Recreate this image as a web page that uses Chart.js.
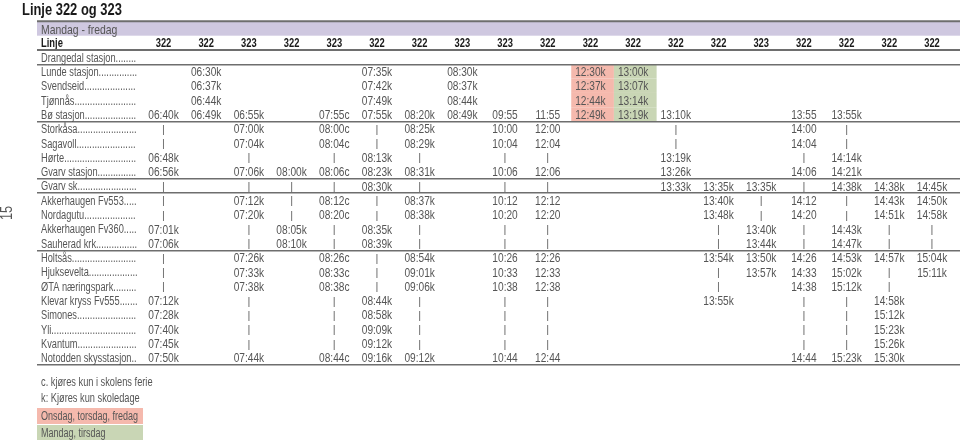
<!DOCTYPE html>
<html lang="no">
<head>
<meta charset="utf-8">
<title>Linje 322 og 323</title>
<script src="https://cdn.jsdelivr.net/npm/chart.js"></script>
<style>
  html, body { margin: 0; padding: 0; background: #fff; }
  #wrap { width: 960px; height: 440px; position: relative; }
</style>
</head>
<body>
<div id="wrap"><canvas id="rutetabell"></canvas></div>
<script>
const _ = '';
const I = '|';

const stasjoner = ['Drangedal stasjon', 'Lunde stasjon', 'Svendseid', 'Tjønnås', 'Bø stasjon', 'Storkåsa', 'Sagavoll', 'Hørte',
    'Gvarv stasjon', 'Gvarv sk.', 'Akkerhaugen Fv553', 'Nordagutu', 'Akkerhaugen Fv360', 'Sauherad krk.', 'Holtsås',
    'Hjuksevelta', 'ØTA næringspark', 'Klevar kryss Fv555', 'Simones', 'Yli', 'Kvantum', 'Notodden skysstasjon'];
const linjer = ['322', '322', '323', '322', '323', '322', '322', '323', '323', '322', '322', '322', '322', '322', '323', '322', '322', '322', '322'];

// en liste per avgang, fra Drangedal til Notodden
const avg01 = [_, _, _, _, '06:40k', I, I, '06:48k', '06:56k', I, I, I, '07:01k', '07:06k', I, I, I, '07:12k', '07:28k', '07:40k', '07:45k', '07:50k'];
const avg02 = [_, '06:30k', '06:37k', '06:44k', '06:49k', _, _, _, _, _, _, _, _, _, _, _, _, _, _, _, _, _];
const avg03 = [_, _, _, _, '06:55k', '07:00k', '07:04k', I, '07:06k', I, '07:12k', '07:20k', I, I, '07:26k', '07:33k', '07:38k', I, I, I, I, '07:44k'];
const avg04 = [_, _, _, _, _, _, _, _, '08:00k', I, I, I, '08:05k', '08:10k', _, _, _, _, _, _, _, _];
const avg05 = [_, _, _, _, '07:55c', '08:00c', '08:04c', I, '08:06c', I, '08:12c', '08:20c', I, I, '08:26c', '08:33c', '08:38c', I, I, I, I, '08:44c'];
const avg06 = [_, '07:35k', '07:42k', '07:49k', '07:55k', I, I, '08:13k', '08:23k', '08:30k', I, I, '08:35k', '08:39k', I, I, I, '08:44k', '08:58k', '09:09k', '09:12k', '09:16k'];
const avg07 = [_, _, _, _, '08:20k', '08:25k', '08:29k', I, '08:31k', I, '08:37k', '08:38k', I, I, '08:54k', '09:01k', '09:06k', I, I, I, I, '09:12k'];
const avg08 = [_, '08:30k', '08:37k', '08:44k', '08:49k', _, _, _, _, _, _, _, _, _, _, _, _, _, _, _, _, _];
const avg09 = [_, _, _, _, '09:55', '10:00', '10:04', I, '10:06', I, '10:12', '10:20', I, I, '10:26', '10:33', '10:38', I, I, I, I, '10:44'];
const avg10 = [_, _, _, _, '11:55', '12:00', '12:04', I, '12:06', I, '12:12', '12:20', I, I, '12:26', '12:33', '12:38', I, I, I, I, '12:44'];
const avg11 = [_, '12:30k', '12:37k', '12:44k', '12:49k', _, _, _, _, _, _, _, _, _, _, _, _, _, _, _, _, _];
const avg12 = [_, '13:00k', '13:07k', '13:14k', '13:19k', _, _, _, _, _, _, _, _, _, _, _, _, _, _, _, _, _];
const avg13 = [_, _, _, _, '13:10k', I, I, '13:19k', '13:26k', '13:33k', _, _, _, _, _, _, _, _, _, _, _, _];
const avg14 = [_, _, _, _, _, _, _, _, _, '13:35k', '13:40k', '13:48k', I, I, '13:54k', I, I, '13:55k', _, _, _, _];
const avg15 = [_, _, _, _, _, _, _, _, _, '13:35k', I, I, '13:40k', '13:44k', '13:50k', '13:57k', _, _, _, _, _, _];
const avg16 = [_, _, _, _, '13:55', '14:00', '14:04', I, '14:06', I, '14:12', '14:20', I, I, '14:26', '14:33', '14:38', I, I, I, I, '14:44'];
const avg17 = [_, _, _, _, '13:55k', I, I, '14:14k', '14:21k', '14:38k', I, I, '14:43k', '14:47k', '14:53k', '15:02k', '15:12k', I, I, I, I, '15:23k'];
const avg18 = [_, _, _, _, _, _, _, _, _, '14:38k', '14:43k', '14:51k', I, I, '14:57k', I, I, '14:58k', '15:12k', '15:23k', '15:26k', '15:30k'];
const avg19 = [_, _, _, _, _, _, _, _, _, '14:45k', '14:50k', '14:58k', I, I, '15:04k', '15:11k', _, _, _, _, _, _];

const avganger = [avg01, avg02, avg03, avg04, avg05, avg06, avg07, avg08, avg09, avg10,
    avg11, avg12, avg13, avg14, avg15, avg16, avg17, avg18, avg19];

// avganger (kolonnenummer) som bare går enkelte dager
const onsdagFredag = [11];
const mandagTirsdag = [12];

const merknader = ['c. kjøres kun i skolens ferie', 'k: Kjøres kun skoledage'];

const FONT = "'Liberation Sans', Arial, sans-serif";
const GRA = '#555555';
const SVART = '#1a1a1a';
const ROSA = '#f5b9ad';
const GRONN = '#c9d6b5';
const LILLA = '#cfc8e0';
const STREK = '#6e6e6e';

// grenser (over rad nr.) der det trekkes strek
const skiller = [0, 1, 5, 9, 10, 14];

// smal skrift: tegn tekst sammenpresset i bredden
function tekst(ctx, s, x, y, font, sx, align) {
    ctx.save();
    ctx.font = font;
    ctx.textAlign = align || 'left';
    ctx.textBaseline = 'middle';
    ctx.translate(x, y);
    ctx.scale(sx, 1);
    ctx.fillText(s, 0, 0);
    ctx.restore();
}

function medPrikker(ctx, navn, bredde) {
    let s = navn;
    while (ctx.measureText(s + '.').width < bredde) s += '.';
    return s;
}

const datasets = avganger.map((kol, i) => ({
    label: 'Linje ' + linjer[i],
    data: kol.map((t, r) => t ? { x: i + 1, y: stasjoner[r], t: t } : null).filter(Boolean),
    pointRadius: 0,
    pointHoverRadius: 0,
    showLine: false
}));

const tabell = {
    id: 'tabell',
    beforeDraw(chart) {
        const { ctx, chartArea: a, scales: { x, y } } = chart;
        const rad = y.getPixelForValue(1) - y.getPixelForValue(0);

        ctx.save();
        ctx.fillStyle = SVART;
        tekst(ctx, 'Linje 322 og 323', 22, 10, 'bold 17px ' + FONT, 0.76);

        // Mandag - fredag
        ctx.fillStyle = LILLA;
        ctx.fillRect(a.left, a.top - 2 * rad, a.right - a.left, rad);
        ctx.strokeStyle = STREK;
        ctx.lineWidth = 2;
        ctx.beginPath();
        ctx.moveTo(a.left, a.top - 2 * rad);
        ctx.lineTo(a.right, a.top - 2 * rad);
        ctx.stroke();

        ctx.fillStyle = GRA;
        tekst(ctx, 'Mandag - fredag', a.left + 4, a.top - 1.5 * rad + 1.5, '13px ' + FONT, 0.8);
        ctx.fillStyle = SVART;
        tekst(ctx, 'Linje', a.left + 4, a.top - 0.5 * rad + 1, 'bold 12px ' + FONT, 0.78);
        linjer.forEach((l, i) => {
            tekst(ctx, l, x.getPixelForValue(i + 1), a.top - 0.5 * rad + 1, 'bold 12px ' + FONT, 0.78, 'center');
        });

        // fargede celler
        const farg = (kolonner, farge) => {
            ctx.fillStyle = farge;
            kolonner.forEach(k => {
                avganger[k - 1].forEach((t, r) => {
                    if (!t) return;
                    const x0 = x.getPixelForValue(k - 0.45);
                    const x1 = x.getPixelForValue(k + 0.55);
                    ctx.fillRect(x0, y.getPixelForValue(r) - rad / 2, x1 - x0, rad);
                });
            });
        };
        farg(onsdagFredag, ROSA);
        farg(mandagTirsdag, GRONN);
        ctx.restore();
    },
    afterDatasetsDraw(chart) {
        const ctx = chart.ctx;
        ctx.save();
        chart.data.datasets.forEach((ds, i) => {
            chart.getDatasetMeta(i).data.forEach((pt, j) => {
                const t = ds.data[j].t;
                if (t === I) {
                    ctx.fillStyle = '#666666';
                    tekst(ctx, t, pt.x, pt.y + 1, '11px ' + FONT, 1, 'center');
                } else {
                    ctx.fillStyle = GRA;
                    tekst(ctx, t, pt.x, pt.y + 1, '13px ' + FONT, 0.78, 'center');
                }
            });
        });
        ctx.restore();
    },
    afterDraw(chart) {
        const { ctx, chartArea: a, scales: { y } } = chart;
        const sx = 0.74;
        const f = '12.5px ' + FONT;
        ctx.save();
        ctx.fillStyle = GRA;

        // stoppesteder med prikker
        ctx.font = f;
        stasjoner.forEach((s, i) => {
            const navn = medPrikker(ctx, s, 97 / sx);
            tekst(ctx, navn, a.left + 4, y.getPixelForValue(i) + 1, f, sx);
        });

        tekst(ctx, merknader[0], a.left + 4, a.bottom + 18, f, sx);
        tekst(ctx, merknader[1], a.left + 4, a.bottom + 34, f, sx);

        ctx.fillStyle = ROSA;
        ctx.fillRect(a.left, a.bottom + 43, 106, 16);
        ctx.fillStyle = GRONN;
        ctx.fillRect(a.left, a.bottom + 60, 106, 16);
        ctx.fillStyle = GRA;
        tekst(ctx, 'Onsdag, torsdag, fredag', a.left + 4, a.bottom + 51.5, f, 0.72);
        tekst(ctx, 'Mandag, tirsdag', a.left + 4, a.bottom + 68.5, f, 0.72);

        // sidetall
        ctx.translate(8, 213);
        ctx.rotate(-Math.PI / 2);
        tekst(ctx, '15', 0, 0, '16px ' + FONT, 0.8, 'center');
        ctx.restore();
    }
};

new Chart(document.getElementById('rutetabell').getContext('2d'), {
    type: 'scatter',
    data: { datasets: datasets },
    options: {
        responsive: true,
        maintainAspectRatio: false,
        animation: false,
        events: [],
        layout: { padding: { left: 37, right: 0, top: 50, bottom: 75 } },
        plugins: {
            legend: { display: false },
            tooltip: { enabled: false }
        },
        scales: {
            x: {
                type: 'linear',
                display: false,
                min: -1.963,
                max: 19.656
            },
            y: {
                type: 'category',
                labels: stasjoner,
                offset: true,
                afterFit: (s) => { s.width = 0; },
                border: { display: false },
                grid: {
                    offset: true,
                    drawTicks: false,
                    color: (c) => (c.index === undefined || skiller.includes(c.index)) ? STREK : 'rgba(0,0,0,0)',
                    lineWidth: (c) => c.index === 0 ? 2 : 1.5
                },
                ticks: { display: false }
            }
        }
    },
    plugins: [tabell]
});
</script>
</body>
</html>
